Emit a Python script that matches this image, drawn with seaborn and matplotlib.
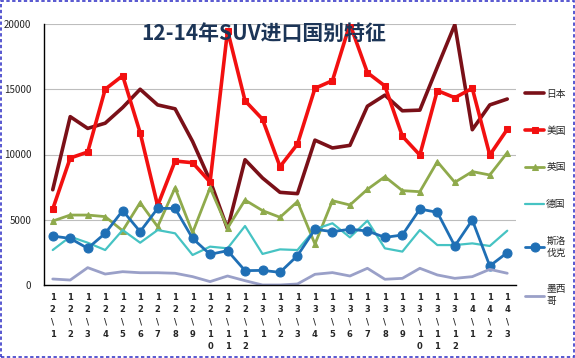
import matplotlib
matplotlib.use("Agg")
import matplotlib.pyplot as plt
import pandas as pd
import seaborn as sns
from matplotlib.patches import Rectangle

MONTHS = ["12\\1", "12\\2", "12\\3", "12\\4", "12\\5", "12\\6", "12\\7", "12\\8", "12\\9",
          "12\\10", "12\\11", "12\\12", "13\\1", "13\\2", "13\\3", "13\\4", "13\\5", "13\\6",
          "13\\7", "13\\8", "13\\9", "13\\10", "13\\11", "13\\12", "14\\1", "14\\2", "14\\3"]

JAPAN = [7300, 12900, 12000, 12400, 13600, 15000, 13800, 13500, 11000, 8000, 4300, 9600, 8200, 7100,
         7000, 11100, 10500, 10700, 13700, 14550, 13350, 13400, 16700, 19950, 11900, 13800, 14250]
USA = [5820, 9730, 10190, 15000, 16040, 11670, 6080, 9500, 9370, 7890, 19500, 14120, 12700, 9070,
       10800, 15070, 15660, 20000, 16270, 15250, 11400, 9960, 14900, 14350, 15070, 9960, 11930]
UK = [4900, 5360, 5360, 5240, 4160, 6310, 4470, 7450, 4010, 7450, 4370, 6510, 5700, 5190,
      6390, 3140, 6460, 6130, 7330, 8300, 7230, 7150, 9450, 7870, 8690, 8430, 10140]
GERMANY = [2680, 3700, 3240, 2680, 4210, 3240, 4210, 3960, 2300, 2940, 2810, 4520, 2380, 2730,
           2680, 4270, 4730, 3650, 4930, 2810, 2560, 4210, 3060, 3060, 3190, 2990, 4160]
SLOVAKIA = [3750, 3570, 2810, 3960, 5700, 4090, 5870, 5870, 3570, 2350, 2630, 1100, 1120, 970,
            2250, 4270, 4090, 4270, 4140, 3650, 3830, 5820, 5570, 2990, 4980, 1460, 2480]
MEXICO = [460, 380, 1330, 840, 1020, 940, 940, 900, 640, 260, 690, 330, 0, 0,
          80, 820, 950, 690, 1280, 440, 510, 1280, 770, 510, 640, 1200, 900]

SERIES = [
    ("日本", JAPAN, "#7a1018", None, 2.6, 0),
    ("美国", USA, "#f21010", "s", 2.6, 5),
    ("英国", UK, "#8faa4c", "^", 2.0, 5),
    ("德国", GERMANY, "#46c3c3", None, 1.6, 0),
    ("斯洛伐克", SLOVAKIA, "#1f6fb5", "o", 2.0, 6.5),
    ("墨西哥", MEXICO, "#9aa0c8", None, 2.0, 0),
]
LEGEND_LABELS = ["日本", "美国", "英国", "德国", "斯洛\n伐克", "墨西\n哥"]

sns.set_style("white")
plt.rcParams["font.family"] = ["Noto Sans CJK SC", "DejaVu Sans"]

fig = plt.figure(figsize=(5.75, 3.58), dpi=100)
ax = fig.add_axes([44 / 575, 1 - 285 / 358, 472 / 575, 261 / 358])

x_idx = list(range(len(MONTHS)))
for name, values, color, marker, lw, ms in SERIES:
    df = pd.DataFrame({"month": x_idx, "value": values})
    sns.lineplot(data=df, x="month", y="value", ax=ax, color=color, linewidth=lw,
                 marker=marker, markersize=ms, markeredgecolor=color, label=name)
h, _ = ax.get_legend_handles_labels()
ax.get_legend().remove()

ax.set_xlim(-0.5, len(MONTHS) - 0.5)
ax.set_ylim(0, 20000)
ax.set_yticks([0, 5000, 10000, 15000, 20000])
ax.yaxis.grid(True, color="#bdbdbd", linewidth=0.8)
ax.set_axisbelow(True)
ax.set_xlabel("")
ax.set_ylabel("")

ax.set_xticks(x_idx)
ax.set_xticklabels(["\n".join(m) for m in MONTHS], fontsize=6, fontweight="bold",
                   family="DejaVu Sans", linespacing=1.45, va="top")
ax.set_xticks([i + 0.5 for i in range(-1, len(MONTHS))], minor=True)
ax.tick_params(axis="x", which="major", length=0, pad=6)
ax.tick_params(axis="x", which="minor", length=3, direction="out", width=0.8, color="black")
ax.tick_params(axis="y", length=3, direction="out", labelsize=7, pad=6, color="black")

for side in ["top", "right"]:
    ax.spines[side].set_visible(False)
for side in ["left", "bottom"]:
    ax.spines[side].set_color("black")
    ax.spines[side].set_linewidth(1.0)

fig.text(264 / 575, 1 - 33 / 358, "12-14年SUV进口国别特征", ha="center", va="center",
         fontsize=15, fontweight="bold", color="#1c3557")

fig.legend(h, LEGEND_LABELS, loc="upper left", bbox_to_anchor=(520 / 575, 1 - 84 / 358),
           frameon=False, fontsize=7, labelspacing=2.75, handlelength=2.0,
           handletextpad=0.2, borderpad=0)

fig.patches.append(Rectangle((0.002, 0.003), 0.996, 0.994, transform=fig.transFigure,
                             fill=False, edgecolor="#3b3bc8", linestyle=(0, (2, 1.5)),
                             linewidth=1.2))

fig.savefig("out.png", dpi=100)
